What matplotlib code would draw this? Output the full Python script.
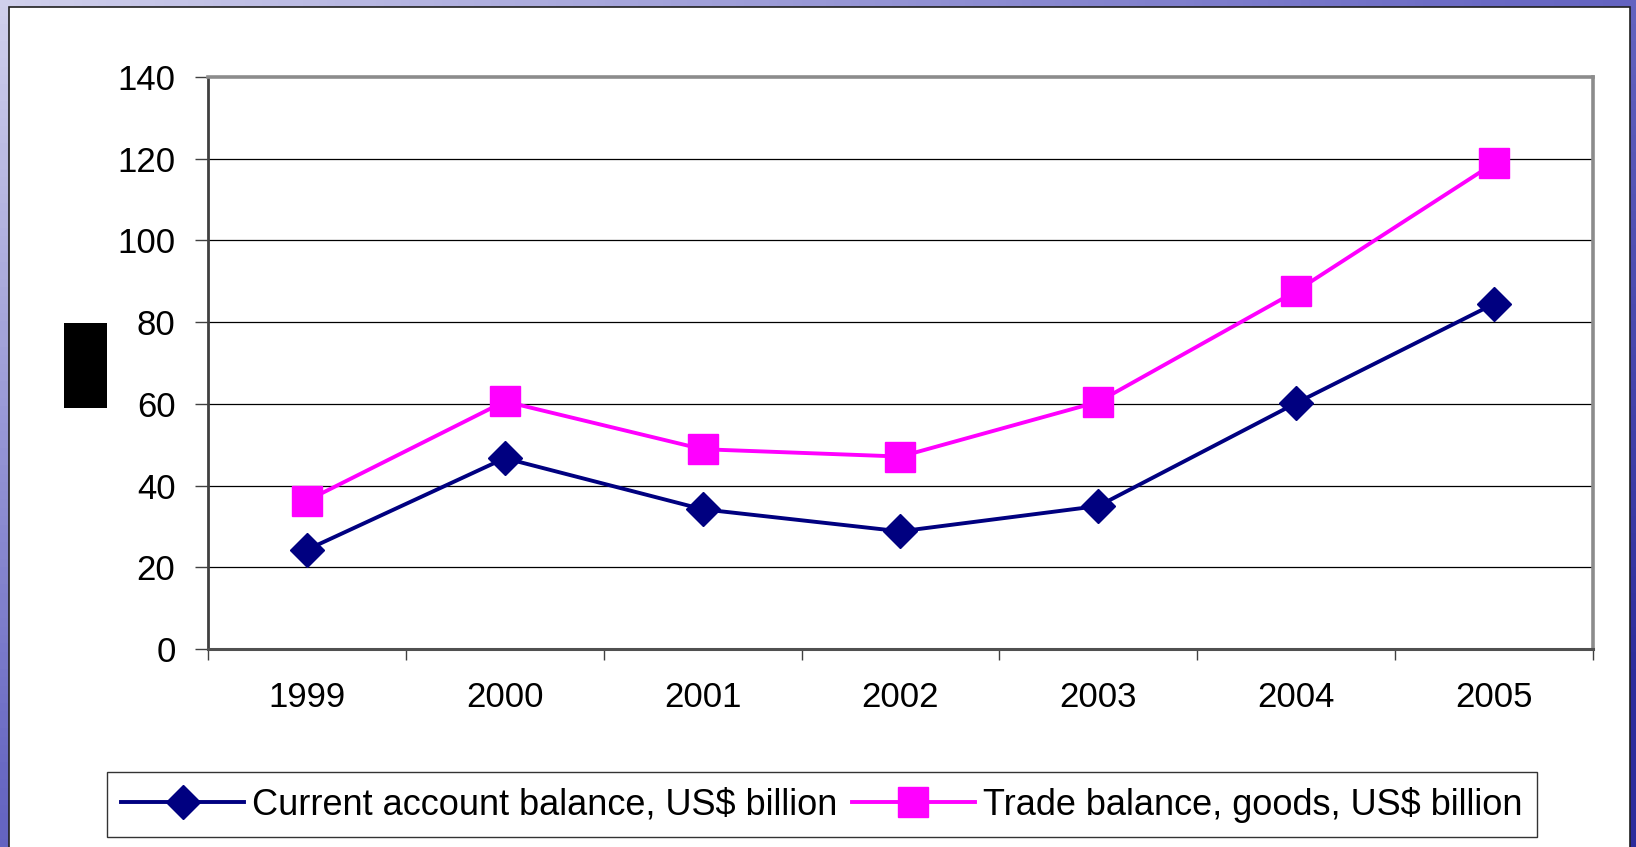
import numpy as np
import matplotlib
matplotlib.use("Agg")
import matplotlib.pyplot as plt
from matplotlib.patches import Rectangle

plt.rcParams["font.family"] = ["Liberation Sans", "DejaVu Sans"]

years = ["1999", "2000", "2001", "2002", "2003", "2004", "2005"]
current_account = [24.3, 46.7, 34.2, 28.8, 35.0, 60.2, 84.5]
trade_balance = [36.3, 60.6, 48.9, 47.1, 60.5, 87.6, 118.9]
yticks = [0, 20, 40, 60, 80, 100, 120, 140]

W, H = 1636, 847
fig = plt.figure(figsize=(W / 100, H / 100), dpi=100)

# bluish slide background with a white panel on top
bg = fig.add_axes([0, 0, 1, 1], zorder=-10)
gx, gy = np.meshgrid(np.linspace(0, 1, 200), np.linspace(0, 1, 100))
grad = np.clip(0.55 * gx + 0.55 * gy, 0, 1)
cmap = matplotlib.colors.LinearSegmentedColormap.from_list("slide", ["#d0d0ec", "#6a6ac4", "#2c2c9c"])
bg.imshow(grad, cmap=cmap, aspect="auto", extent=[0, 1, 0, 1], origin="upper")
bg.add_patch(Rectangle((9 / W, -0.01), (1630 - 9) / W, 1.01 - 7 / H, transform=bg.transAxes,
                       facecolor="white", edgecolor="#202020", lw=1.2))
bg.add_patch(Rectangle((64 / W, 1 - 408 / H), 43 / W, 85 / H, transform=bg.transAxes,
                       facecolor="black", edgecolor="none"))
bg.set_xlim(0, 1); bg.set_ylim(0, 1)
bg.axis("off")

ax = fig.add_axes([208 / W, 1 - 649 / H, (1593 - 208) / W, (649 - 77) / H])
ax.set_facecolor("white")
x = np.arange(len(years)) + 0.5
ax.plot(x, current_account, "-", color="#000080", lw=2.8, marker="D", ms=17,
        mec="#000080", zorder=4, label="Current account balance, US$ billion")
ax.plot(x, trade_balance, "-", color="#ff00ff", lw=2.8, marker="s", ms=21,
        mec="#ff00ff", zorder=4, label="Trade balance, goods, US$ billion")

ax.set_xlim(0, len(years))
ax.set_ylim(0, 140)
ax.set_yticks(yticks)
ax.tick_params(axis="y", length=9.4, width=1, pad=14, labelsize=25, color="#404040")
ax.set_xticks(np.arange(len(years) + 1))
ax.set_xticklabels([])
ax.tick_params(axis="x", which="major", length=8, width=1, color="#404040")
ax.set_xticks(x, minor=True)
ax.set_xticklabels(years, minor=True)
ax.tick_params(axis="x", which="minor", length=0, pad=23, labelsize=25)
for v in yticks[1:-1]:
    ax.axhline(v, color="black", lw=0.9, zorder=1)

ax.spines["left"].set_color("#404040"); ax.spines["left"].set_linewidth(2)
ax.spines["bottom"].set_color("#505050"); ax.spines["bottom"].set_linewidth(2.2)
ax.spines["top"].set_color("#8c8c8c"); ax.spines["top"].set_linewidth(2.6)
ax.spines["right"].set_color("#8c8c8c"); ax.spines["right"].set_linewidth(2.6)

leg = fig.legend(loc="lower left", bbox_to_anchor=(107 / W, 10 / H), ncol=2, fontsize=26,
                 frameon=True, fancybox=False, handlelength=3.4, handletextpad=0.22,
                 columnspacing=0.4, borderpad=0.4, borderaxespad=0)
leg.get_frame().set_edgecolor("black")
leg.get_frame().set_linewidth(1)

fig.savefig("out.png", dpi=100)
